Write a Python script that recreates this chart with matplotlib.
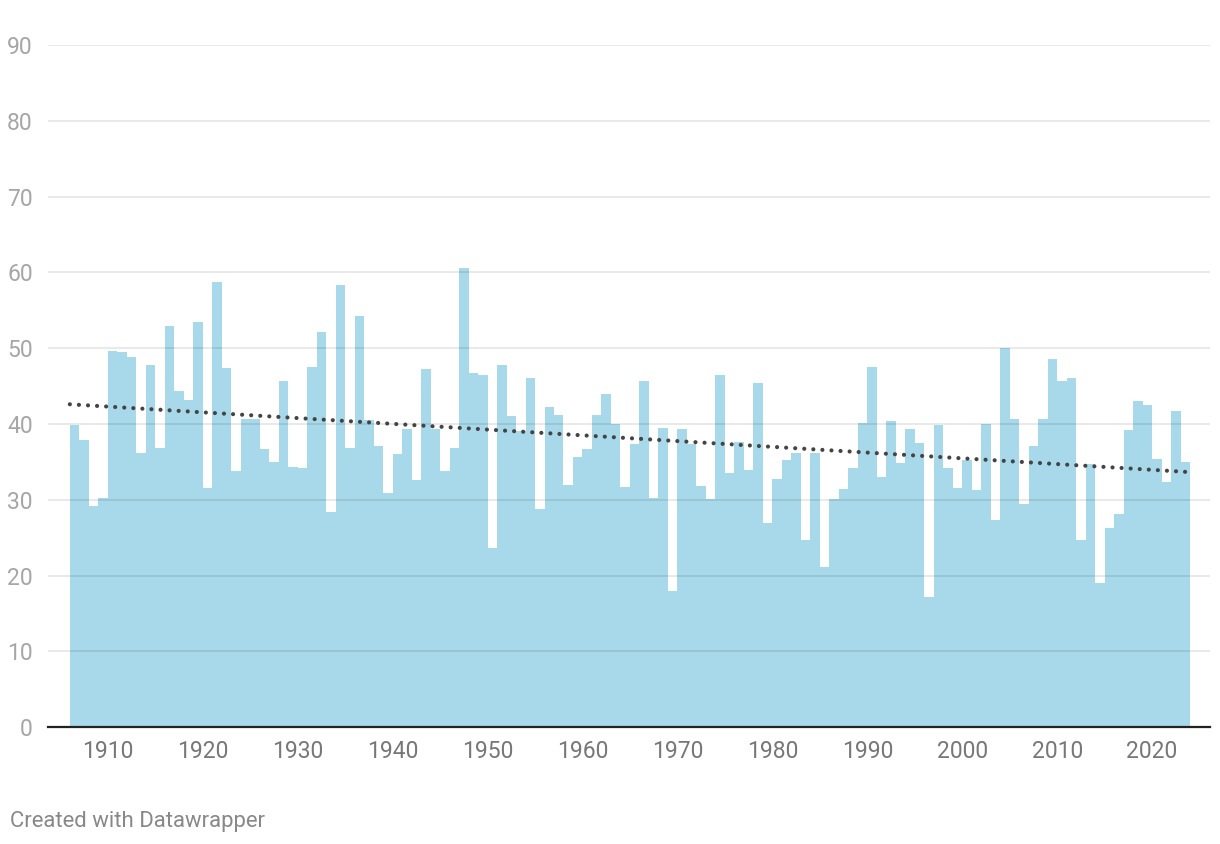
import numpy as np
import matplotlib
matplotlib.use("Agg")
import matplotlib.pyplot as plt

plt.rcParams["font.family"] = ["Roboto", "DejaVu Sans"]

# one value per year, 1906..2023
years = np.arange(1906, 2024)
values = [
    39.9, 37.9, 29.2, 30.3, 49.7, 49.5, 48.9, 36.2, 47.8, 36.8,   # 1906-1915
    52.9, 44.4, 43.2, 53.4, 31.6, 58.7, 47.4, 33.8, 40.7, 40.7,   # 1916-1925
    36.7, 35.0, 45.7, 34.3, 34.2, 47.5, 52.1, 28.4, 58.4, 36.9,   # 1926-1935
    54.2, 40.5, 37.1, 30.9, 36.1, 39.3, 32.6, 47.3, 39.3, 33.8,   # 1936-1945
    36.8, 60.6, 46.7, 46.5, 23.6, 47.8, 41.1, 39.1, 46.1, 28.8,   # 1946-1955
    42.2, 41.2, 31.9, 35.6, 36.7, 41.2, 43.9, 40.0, 31.7, 37.4,   # 1956-1965
    45.7, 30.2, 39.5, 18.0, 39.3, 37.4, 31.8, 30.1, 46.5, 33.5,   # 1966-1975
    37.6, 33.9, 45.4, 26.9, 32.7, 35.3, 36.2, 24.7, 36.2, 21.1,   # 1976-1985
    30.1, 31.4, 34.2, 40.1, 47.5, 33.0, 40.4, 34.9, 39.3, 37.5,   # 1986-1995
    17.2, 39.9, 34.2, 31.5, 35.2, 31.3, 40.0, 27.4, 50.0, 40.7,   # 1996-2005
    29.5, 37.1, 40.7, 48.6, 45.7, 46.1, 24.7, 34.7, 19.1, 26.3,   # 2006-2015
    28.2, 39.2, 43.0, 42.5, 35.4, 32.3, 41.7, 35.0,               # 2016-2023
]
xticks = list(range(1910, 2021, 10))
yticks = list(range(0, 91, 10))

BAR = "#a8d9ea"

fig = plt.figure(figsize=(12.2, 8.44), dpi=100)
ax = fig.add_axes([48 / 1220, 1 - 727.3 / 844, (1210 - 48) / 1220, (727.3 - 45) / 844])

ax.bar(years, values, width=1.0, align="edge", color=BAR, linewidth=0, zorder=1)

# linear trend
vals = np.array(values)
centers = years + 0.5
k, b = np.polyfit(centers, vals, 1)
tx = np.array([years[0], years[-1] + 0.5])
ax.plot(tx, k * tx + b, color="#444444", lw=3.0, ls=(0, (0.01, 2.17)),
        dash_capstyle="round", zorder=3)

ax.set_xlim(1903.7, 2026.1)
ax.set_ylim(0, 90)
ax.set_yticks(yticks)
ax.set_xticks(xticks)
ax.grid(axis="y", color="black", alpha=0.11, lw=1.1, zorder=2)
ax.set_axisbelow(False)
for s in ["top", "right", "left"]:
    ax.spines[s].set_visible(False)
ax.spines["bottom"].set_color("#222222")
ax.spines["bottom"].set_linewidth(1.6)
ax.spines["bottom"].set_zorder(4)
ax.tick_params(axis="y", length=0, pad=11, labelsize=16.5, labelcolor="#a6a6a6")
ax.tick_params(axis="x", length=0, pad=9, labelsize=16.5, labelcolor="#777777")

fig.text(10 / 1220, 1 - 821 / 844, "Created with Datawrapper", fontsize=15.9,
         color="#888888", va="center", ha="left")

fig.savefig("out.png", dpi=100)
